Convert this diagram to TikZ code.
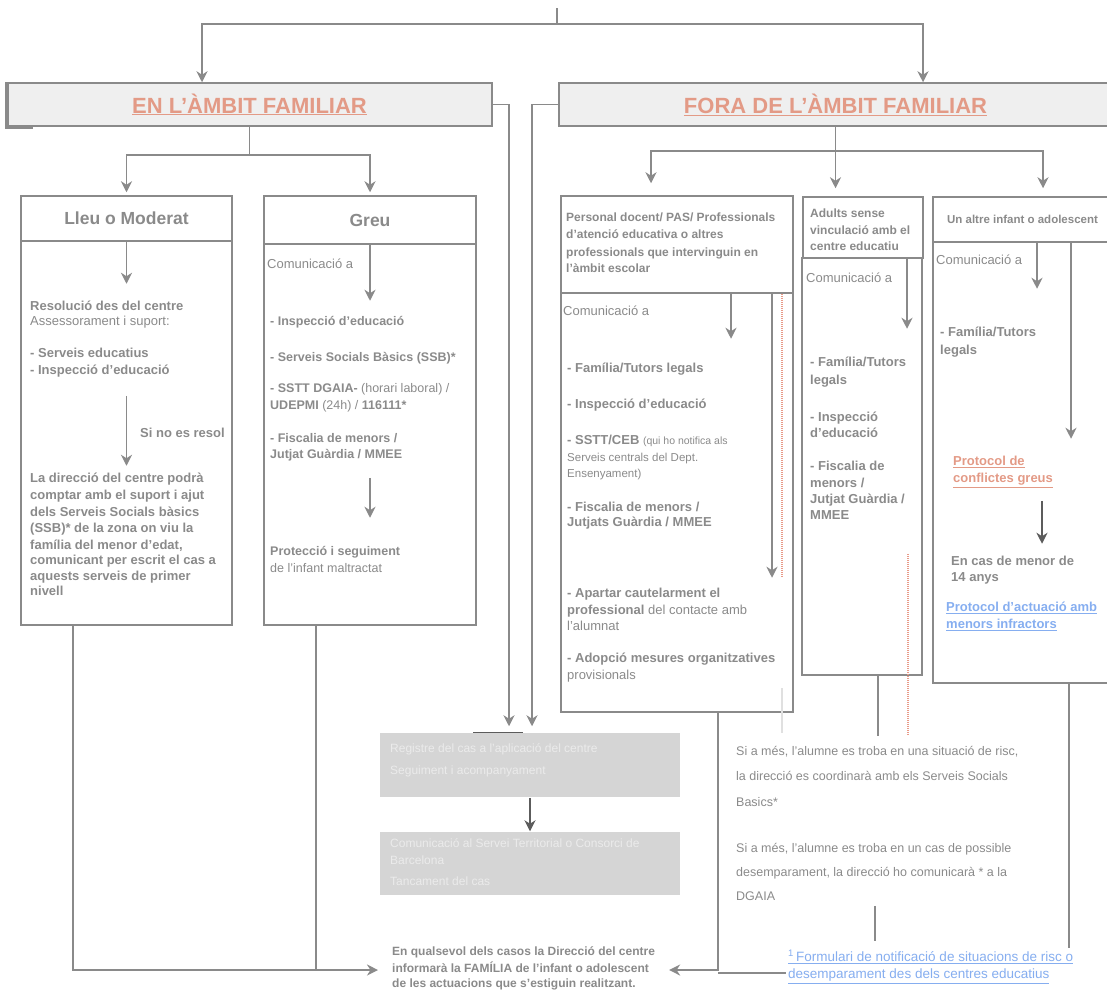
\documentclass[tikz,border=0pt]{standalone}
\usepackage{fontspec}
\setmainfont{Liberation Sans}
\usetikzlibrary{arrows.meta,calc}

\definecolor{linia}{HTML}{8A8A8A}
\definecolor{lletra}{HTML}{8A8A8A}
\definecolor{salmo}{HTML}{E39A86}
\definecolor{enllac}{HTML}{86AEF0}
\definecolor{grisclar}{HTML}{D5D5D5}
\definecolor{grisblanc}{HTML}{EBEBEB}
\definecolor{fonsen}{HTML}{EFEFEF}
\definecolor{fosc}{HTML}{5C5C5C}
\definecolor{vermell}{HTML}{E89A88}

\tikzset{
  ln/.style={draw=linia, line width=1.8pt},
  fl/.style={ln, -{Stealth[length=11pt,width=11pt,inset=3.5pt]}},
  punts/.style={draw=vermell, line width=1.5pt, dash pattern=on 1pt off 1pt},
  caixa/.style={draw=linia, line width=1.5pt, inner sep=0pt, text=lletra},
  titol/.style={font=\fontsize{22}{24}\selectfont\bfseries, text=salmo},
  capcal/.style={font=\fontsize{17.5}{20}\selectfont\bfseries},
  txt/.style={anchor=mid west, inner sep=0pt, text=lletra, font=\fontsize{13}{15}\selectfont},
  btxt/.style={txt, font=\fontsize{13}{15}\selectfont\bfseries},
  gtxt/.style={txt, font=\fontsize{12.5}{15}\selectfont},
  htxt/.style={txt, font=\fontsize{12}{14}\selectfont\bfseries},
  stxt/.style={txt, font=\fontsize{12.5}{14}\selectfont},
  blanc/.style={txt, text=grisblanc, font=\fontsize{12}{14}\selectfont},
}

% caixa: nom, x1, y1, x2, y2, opcions, text
\newcommand{\capsa}[7]{\node[caixa, minimum width={#4-#2}, minimum height={#5-#3}, #6] (#1) at ({(#2+#4)/2},{(#3+#5)/2}) {#7};}

\begin{document}
\begin{tikzpicture}[x=1pt,y=-1pt]
\useasboundingbox (0,0) rectangle (1107,997);

% capses
\capsa{en}{7}{83}{492}{126}{fill=fonsen,titol}{\underline{EN L'ÀMBIT FAMILIAR}}
\capsa{fora}{559}{83}{1112}{126}{fill=fonsen,titol}{\underline{FORA DE L'ÀMBIT FAMILIAR}}
\draw[linia, line width=4pt] ([xshift=1]en.north west) |- ([xshift=27]en.south west);
\capsa{lleuh}{21}{196}{232}{241}{capcal}{Lleu o Moderat}
\capsa{lleub}{21}{241}{232}{625}{}{}
\capsa{greuh}{264}{196}{476}{244}{capcal}{Greu}
\capsa{greub}{264}{244}{476}{625}{}{}
\capsa{persh}{561}{196}{793}{293}{}{}
\capsa{persb}{561}{293}{793}{712}{}{}
\capsa{adulh}{803}{197}{923}{258}{}{}
\capsa{adulb}{802}{258}{922}{675}{}{}
\capsa{altreh}{933}{197}{1112}{242}{font=\fontsize{11.5}{13}\selectfont\bfseries}{Un altre infant o adolescent}
\capsa{altreb}{933}{242}{1112}{683}{}{}
\capsa{gris1}{380}{733}{680}{797}{fill=grisclar,draw=none}{}
\capsa{gris2}{380}{832}{680}{895}{fill=grisclar,draw=none}{}

% text: lleu
\foreach \y/\t in {308/{\textbf{Resolució des del centre}}, 323/{Assessorament i suport:},
  355/{\textbf{- Serveis educatius}}, 372/{\textbf{- Inspecció d'educació}}}
  \node[txt] (ll\y) at (30,\y) {\t};
\node[btxt] (resol) at (140,435) {Si no es resol};
\foreach \y/\t in {480/{La direcció del centre podrà}, 497/{comptar amb el suport i ajut},
  514/{dels Serveis Socials bàsics}, 530/{(SSB)* de la zona on viu la},
  547/{família del menor d'edat,}, 562/{comunicant per escrit el cas a},
  578/{aquests serveis de primer}, 593/{nivell}}
  \node[btxt] (lp\y) at (30,\y) {\t};

% text: greu
\node[txt] (gcom) at (267,266) {Comunicació a};
\foreach \y/\t in {323/{\textbf{- Inspecció d'educació}}, 359/{\textbf{- Serveis Socials Bàsics (SSB)*}},
  390/{\textbf{- SSTT DGAIA-} (horari laboral) /}, 407/{\textbf{UDEPMI} (24h) / \textbf{116111*}},
  440/{\textbf{- Fiscalia de menors /}}, 456/{\textbf{Jutjat Guàrdia / MMEE}},
  553/{\textbf{Protecció i seguiment}}, 570/{de l'infant maltractat}}
  \node[gtxt] (g\y) at (270,\y) {\t};

% text: personal
\foreach \y/\t in {219/{Personal docent/ PAS/ Professionals}, 236/{d'atenció educativa o altres},
  254/{professionals que intervinguin en}, 270/{l'àmbit escolar}}
  \node[htxt] (ph\y) at (566,\y) {\t};
\node[txt] (pcom) at (563,313) {Comunicació a};
\foreach \y/\t in {370/{\textbf{- Família/Tutors legals}}, 406/{\textbf{- Inspecció d'educació}},
  442/{\textbf{- SSTT/CEB} {\fontsize{10.5}{12}\selectfont (qui ho notifica als}},
  459/{\fontsize{11.5}{12}\selectfont Serveis centrals del Dept.}, 475/{\fontsize{11.5}{12}\selectfont Ensenyament)},
  509/{\textbf{- Fiscalia de menors /}}, 524/{\textbf{Jutjats Guàrdia / MMEE}},
  595/{\textbf{- Apartar cautelarment el}}, 612/{\textbf{professional} del contacte amb},
  628/{l'alumnat}, 660/{\textbf{- Adopció mesures organitzatives}}, 677/{provisionals}}
  \node[txt] (p\y) at (567,\y) {\t};

% text: adults
\foreach \y/\t in {215/{Adults sense}, 232/{vinculació amb el}, 248/{centre educatiu}}
  \node[htxt] (ah\y) at (810,\y) {\t};
\node[txt] (acom) at (806,280) {Comunicació a};
\foreach \y/\t in {364/{- Família/Tutors}, 382/{legals}, 419/{- Inspecció}, 435/{d'educació},
  468/{- Fiscalia de}, 485/{menors /}, 501/{Jutjat Guàrdia /}, 517/{MMEE}}
  \node[btxt] (a\y) at (810,\y) {\t};

% text: un altre infant
\node[txt] (tcom) at (936,262) {Comunicació a};
\node[btxt] (t334) at (940,334) {- Família/Tutors};
\node[btxt] (t352) at (940,352) {legals};
\node[btxt, text=salmo] (conf1) at (953,463) {\underline{Protocol de}};
\node[btxt, text=salmo] (conf2) at (953,480) {\underline{conflictes greus}};
\node[btxt] (t563) at (951,563) {En cas de menor de};
\node[btxt] (t579) at (951,579) {14 anys};
\node[btxt, text=enllac] (inf1) at (946,609) {\underline{Protocol d'actuació amb}};
\node[btxt, text=enllac] (inf2) at (946,626) {\underline{menors infractors}};

% text: caixes grises
\foreach \y/\t in {750/{Registre del cas a l'aplicació del centre}, 772/{Seguiment i acompanyament}}
  \node[blanc] (ga\y) at (390,\y) {\t};
\foreach \y/\t in {845/{Comunicació al Servei Territorial o Consorci de}, 862/{Barcelona}, 883/{Tancament del cas}}
  \node[blanc] (gb\y) at (390,\y) {\t};

% text: risc
\foreach \y/\t in {753/{Si a més, l'alumne es troba en una  situació de risc,},
  778/{la direcció es coordinarà amb els Serveis Socials}, 804/{Basics*},
  850/{Si a més, l'alumne es troba en un cas de possible},
  874/{desemparament, la direcció ho comunicarà * a la}, 898/{DGAIA}}
  \node[stxt] (r\y) at (736,\y) {\t};

% text: final
\foreach \y/\t in {953/{En qualsevol dels casos la Direcció del centre},
  970/{informarà la FAMÍLIA de l'infant o adolescent},
  985/{de les actuacions que s'estiguin realitzant.}}
  \node[htxt] (f\y) at (392,\y) {\t};

% connectors de dalt
\coordinate (cim) at (557,8);
\coordinate (rep) at (557,24);
\draw[ln] (cim) -- (rep);
\draw[fl] (rep) -| ([xshift=-47.5]en.north);
\draw[fl] (rep) -| ([xshift=87.5]fora.north);
\draw[ln] (en.south) -- ++(0,28) coordinate (enb);
\draw[fl, shorten >=3pt] (enb) -| (lleuh.north);
\draw[fl, shorten >=3pt] (enb) -| (greuh.north);
\draw[ln] (fora.south) -- ++(0,24) coordinate (forab);
\draw[fl, shorten >=12pt] (forab) -| ([xshift=-26]persh.north);
\draw[fl, shorten >=8pt] (forab) -- (forab |- adulh.north);
\draw[fl, shorten >=8pt] (forab) -| ([xshift=20.5]altreh.north);

% connectors interiors
\draw[fl] (lleuh.south) -- ++(0,42);
\draw[fl] ($(lleuh.south)+(0,154)$) -- ++(0,70);
\draw[fl] (greuh.south) -- ++(0,56);
\draw[fl] ($(greuh.south)+(0,233)$) -- ++(0,40);
\draw[fl] ([xshift=54]persh.south) -- ++(0,45);
\draw[fl] ([xshift=95]persh.south) -- ++(0,284);
\draw[punts] ([xshift=105]persh.south) -- ++(0,284);
\draw[fl] ([xshift=44]adulh.south) -- ++(0,70);
\draw[punts] ($(adulb.south)+(46,-122)$) -- ++(0,182);
\draw[fl] ([xshift=14.5]altreh.south) -- ++(0,46);
\draw[fl] ([xshift=48.5]altreh.south) -- ++(0,196);
\draw[fl, draw=fosc] ($(altreh.south)+(19.5,258)$) -- ++(0,43);

% connectors cap a les caixes grises
\draw[fl, shorten >=6pt] (en.east) -| ([xshift=-21]gris1.north);
\draw[fl, shorten >=6pt] (fora.west) -| ([xshift=2]gris1.north);
\draw[fosc, line width=1pt] ([xshift=-57]gris1.north) -- ([xshift=-7]gris1.north);
\draw[fl, draw=fosc, line width=1.2pt] (gris1.south) -- (gris2.north);

% connectors de baix
\coordinate (gb) at ($(greub.south)+(-54,0)$);
\draw[fl] ([xshift=-53.5]lleub.south) |- ([xshift=-14]f970.mid west);
\draw[ln] (gb) -- (gb |- f970.mid west);
\coordinate (pb) at ($(persb.south)+(41,0)$);
\draw[ln] ($(altreb.south)+(46.5,0)$) |- ($(pb)+(0,260)$);
\draw[fl] (pb) |- ([xshift=20]f970.mid east);
\draw[ln] ([xshift=16]adulb.south) -- ++(0,60);
\draw[draw=black!12, line width=1.5pt] ($(persb.south)+(105,-25)$) -- ++(0,45);
\draw[ln, line width=1.2pt] ($(adulb.south)+(13,230)$) -- ++(0,35);

% enllac del formulari
\node[anchor=north west, fill=white, inner sep=2pt, align=left, text=enllac,
  font=\fontsize{13.5}{17}\selectfont] (form) at (786,948)
  {\underline{\textsuperscript{1}\,Formulari de notificació de situacions de risc o}\\
   \underline{desemparament des dels centres educatius}};
\end{tikzpicture}
\end{document}
